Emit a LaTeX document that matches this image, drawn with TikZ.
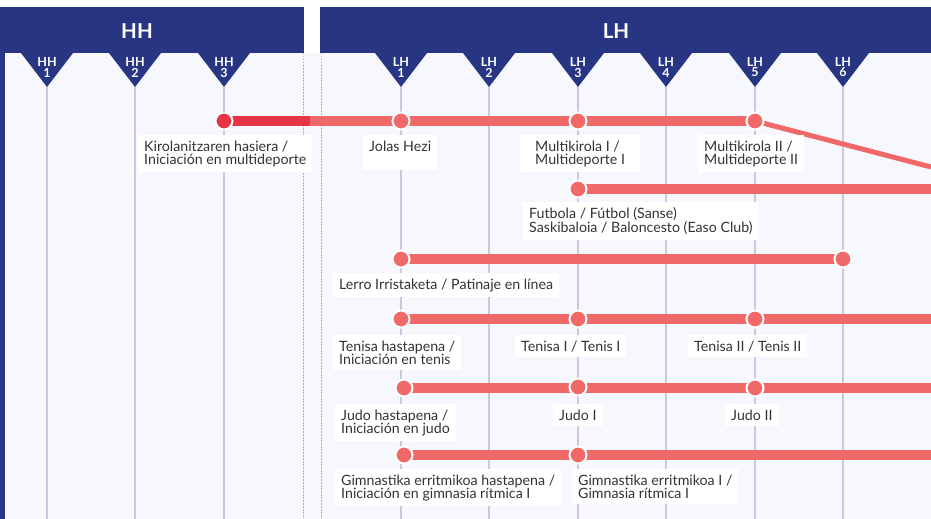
\documentclass[tikz,border=0pt]{standalone}
\usepackage{fontspec}
\setmainfont{Lato}
\usetikzlibrary{calc}

\definecolor{navy}{RGB}{40,53,131}
\definecolor{paper}{RGB}{247,248,253}
\definecolor{gridcol}{RGB}{200,200,226}
\definecolor{dotcol}{RGB}{176,176,208}
\definecolor{salmon}{RGB}{240,104,104}
\definecolor{brick}{RGB}{230,52,70}
\definecolor{ink}{RGB}{51,51,51}

\tikzset{
  bar/.style={line width=10.5pt, salmon},
  dotnode/.style={circle, fill=salmon, draw=white, line width=2pt, minimum size=17pt, inner sep=0pt},
  gridline/.style={gridcol, line width=1.2pt},
  sepline/.style={dotcol, line width=1pt, dash pattern=on 1.5pt off 1.5pt},
  timebox/.style={fill=white, text=ink, anchor=north west, align=left, inner xsep=6pt, inner ysep=5.5pt,
    yshift=-1pt, font=\fontsize{14.2}{13}\selectfont},
  bandtitle/.style={text=white, font=\fontsize{20.5}{22}\bfseries\selectfont},
  colhead/.style={text=white, inner sep=0pt, font=\fontsize{12.5}{12}\bfseries\selectfont}
}

\begin{document}
\begin{tikzpicture}[x=1pt, y=-1pt]
		\useasboundingbox (0,0) rectangle (931,519);

		% column tips
		\coordinate (hh1) at (47,87);
		\coordinate (hh2) at (135,87);
		\coordinate (hh3) at (224,87);
		\coordinate (lh1) at (401,87);
		\coordinate (lh2) at (489,87);
		\coordinate (lh3) at (578,87);
		\coordinate (lh4) at (666,87);
		\coordinate (lh5) at (755,87);
		\coordinate (lh6) at (843,87);

		% timeline points
		\coordinate (kir) at (224,121);
		\coordinate (kirsplit) at (310,121);
		\coordinate (jol) at (401,121);
		\coordinate (mk1) at (578,121);
		\coordinate (mk2) at (755,121);
		\coordinate (mkout) at (931,167);

		\coordinate (fut) at (578,189);
		\coordinate (futout) at (931,189);

		\coordinate (pat0) at (401,259);
		\coordinate (pat1) at (843,259);

		\coordinate (ten0) at (401,319);
		\coordinate (ten1) at (578,319);
		\coordinate (ten2) at (755,319);
		\coordinate (tenout) at (931,319);

		\coordinate (jud0) at (404,388);
		\coordinate (jud1) at (578,387);
		\coordinate (jud2) at (755,388);
		\coordinate (judout) at (931,388);

		\coordinate (gim0) at (404,455);
		\coordinate (gim1) at (578,455);
		\coordinate (gimout) at (931,455);

		% background and bands
		\fill[white] (0,0) rectangle (931,519);
		\fill[paper] (5,53) rectangle (931,519);
		\fill[navy] (0,53) rectangle (5,519);
		\fill[navy] (0,7) rectangle (304,53);
		\fill[navy] (320,7) rectangle (931,53);

		\fill[navy] (21,53) -- (73,53) -- (hh1) -- cycle;
		\fill[navy] (109,53) -- (161,53) -- (hh2) -- cycle;
		\fill[navy] (198,53) -- (250,53) -- (hh3) -- cycle;
		\fill[navy] (375,53) -- (427,53) -- (lh1) -- cycle;
		\fill[navy] (463,53) -- (515,53) -- (lh2) -- cycle;
		\fill[navy] (552,53) -- (604,53) -- (lh3) -- cycle;
		\fill[navy] (640,53) -- (692,53) -- (lh4) -- cycle;
		\fill[navy] (729,53) -- (781,53) -- (lh5) -- cycle;
		\fill[navy] (817,53) -- (869,53) -- (lh6) -- cycle;

		\node[bandtitle] (hhtitle) at (137,31) {HH};
		\node[bandtitle] (lhtitle) at (616,31) {LH};

		\node[colhead] (hh1t) at (47,61.5) {HH};
		\node[colhead] (hh2t) at (135,61.5) {HH};
		\node[colhead] (hh3t) at (224,61.5) {HH};
		\node[colhead] (lh1t) at (401,61.5) {LH};
		\node[colhead] (lh2t) at (489,61.5) {LH};
		\node[colhead] (lh3t) at (578,61.5) {LH};
		\node[colhead] (lh4t) at (666,61.5) {LH};
		\node[colhead] (lh5t) at (755,61.5) {LH};
		\node[colhead] (lh6t) at (843,61.5) {LH};
		\node[colhead] (hh1n) at (47,72.5) {1};
		\node[colhead] (hh2n) at (135,72.5) {2};
		\node[colhead] (hh3n) at (224,72.5) {3};
		\node[colhead] (lh1n) at (401,72.5) {1};
		\node[colhead] (lh2n) at (489,72.5) {2};
		\node[colhead] (lh3n) at (578,72.5) {3};
		\node[colhead] (lh4n) at (666,72.5) {4};
		\node[colhead] (lh5n) at (755,72.5) {5};
		\node[colhead] (lh6n) at (843,72.5) {6};

		% grid
		\draw[gridline] (hh1) -- (47,519);
		\draw[gridline] (hh2) -- (135,519);
		\draw[gridline] (hh3) -- (224,519);
		\draw[gridline] (lh1) -- (401,519);
		\draw[gridline] (lh2) -- (489,519);
		\draw[gridline] (lh3) -- (578,519);
		\draw[gridline] (lh4) -- (666,519);
		\draw[gridline] (lh5) -- (755,519);
		\draw[gridline] (lh6) -- (843,519);
		\draw[sepline] (303,53) -- (303,519);
		\draw[sepline] (321,53) -- (321,519);

		% bars
		\draw[bar, brick] (kir) -- (kirsplit);
		\draw[bar] (kirsplit) -- (jol) -- (mk2);
		\draw[salmon, line width=5pt] (mk2) -- (mkout);
		\draw[bar] (fut) -- (futout);
		\draw[bar] (pat0) -- (pat1);
		\draw[bar] (ten0) -- (tenout);
		\draw[bar] (jud0) -- (judout);
		\draw[bar] (gim0) -- (gimout);

		% dots
		\node[dotnode, fill=brick] (kirdot) at (kir) {};
		\node[dotnode] (joldot) at (jol) {};
		\node[dotnode] (mk1dot) at (mk1) {};
		\node[dotnode] (mk2dot) at (mk2) {};
		\node[dotnode] (futdot) at (fut) {};
		\node[dotnode] (pat0dot) at (pat0) {};
		\node[dotnode] (pat1dot) at (pat1) {};
		\node[dotnode] (ten0dot) at (ten0) {};
		\node[dotnode] (ten1dot) at (ten1) {};
		\node[dotnode] (ten2dot) at (ten2) {};
		\node[dotnode] (jud0dot) at (jud0) {};
		\node[dotnode] (jud1dot) at (jud1) {};
		\node[dotnode] (jud2dot) at (jud2) {};
		\node[dotnode] (gim0dot) at (gim0) {};
		\node[dotnode] (gim1dot) at (gim1) {};

		% labels
		\node[timebox] (kirlbl) at (138,134) {Kirolanitzaren hasiera /\\Iniciación en multideporte};
		\node[timebox] (jollbl) at (363,134) {Jolas Hezi\\\mbox{}};
		\node[timebox, inner xsep=15pt] (mk1lbl) at (520,134) {Multikirola I /\\Multideporte I};
		\node[timebox] (mk2lbl) at (698,134) {Multikirola II /\\Multideporte II};
		\node[timebox] (futlbl) at (523,201) {Futbola / Fútbol (Sanse)\\Saskibaloia / Baloncesto (Easo Club)};
		\node[timebox] (patlbl) at (333,272) {Lerro Irristaketa / Patinaje en línea};
		\node[timebox] (ten0lbl) at (333,334) {Tenisa hastapena /\\Iniciación en tenis};
		\node[timebox] (ten1lbl) at (515,334) {Tenisa I / Tenis I};
		\node[timebox] (ten2lbl) at (688,334) {Tenisa II / Tenis II};
		\node[timebox] (jud0lbl) at (335,403) {Judo hastapena /\\Iniciación en judo};
		\node[timebox] (jud1lbl) at (553,403) {Judo I};
		\node[timebox] (jud2lbl) at (725,403) {Judo II};
		\node[timebox] (gim0lbl) at (335,468) {Gimnastika erritmikoa hastapena /\\Iniciación en gimnasia rítmica I};
		\node[timebox] (gim1lbl) at (572,468) {Gimnastika erritmikoa I /\\Gimnasia rítmica I};
	\end{tikzpicture}
\end{document}
